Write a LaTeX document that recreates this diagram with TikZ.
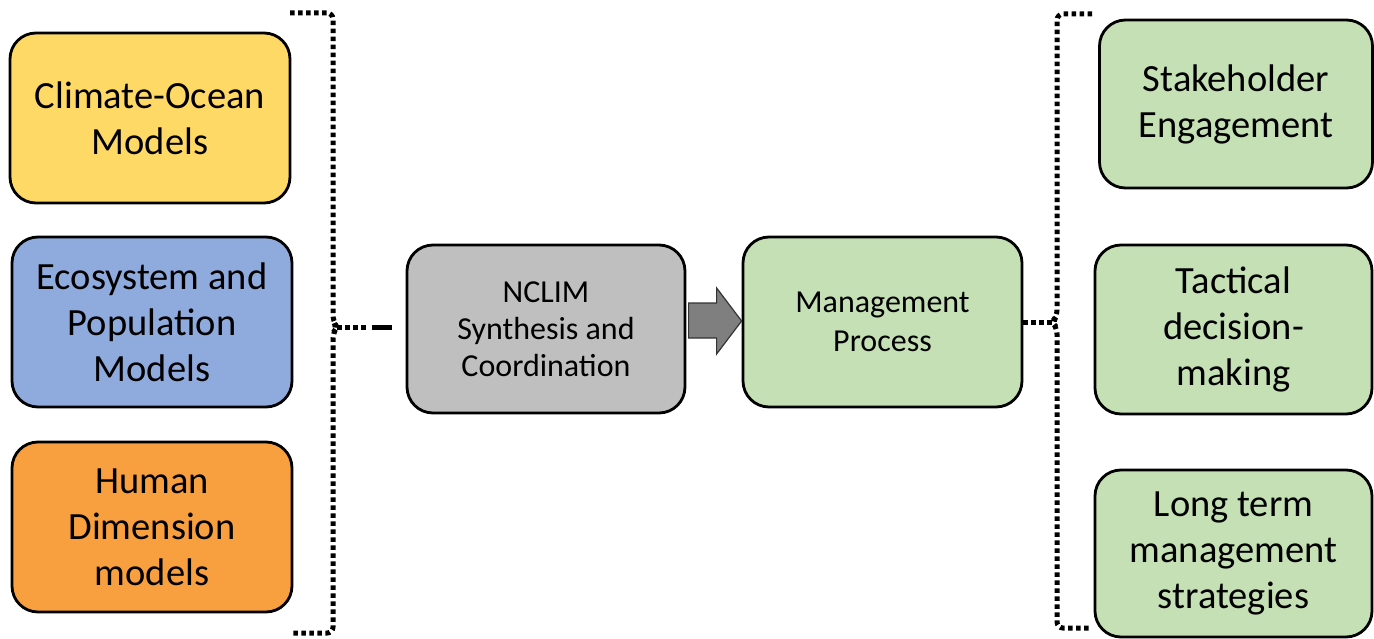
\documentclass[tikz,border=0pt]{standalone}
\usepackage{fontspec}
\setmainfont{Carlito}
\usetikzlibrary{calc}
\definecolor{cyellow}{HTML}{FFD966}
\definecolor{cblue}{HTML}{8FAADC}
\definecolor{corange}{HTML}{F8A03F}
\definecolor{cgray}{HTML}{BFBFBF}
\definecolor{cgreen}{HTML}{C5E0B4}
\definecolor{carrow}{HTML}{7F7F7F}
\tikzset{
  box/.style={draw=black, line width=2.8pt, rounded corners=26pt, inner sep=0pt,
    minimum width=280pt, minimum height=170pt, align=center},
  bigtext/.style={font=\fontsize{38.5}{46}\selectfont},
  midtext/.style={font=\fontsize{32}{37}\selectfont},
  bracket/.style={line width=5pt, dash pattern=on 4.5pt off 3.5pt, rounded corners=6pt},
  blockarrow/.style={draw=black!80, line width=1.2pt, fill=carrow, line join=miter},
}
\begin{document}
\begin{tikzpicture}[x=1pt,y=-1pt]
\useasboundingbox (0,0) rectangle (1374,639);
% left column
\node[box, bigtext, fill=cyellow] (clim) at (150,118) {Climate-Ocean\\Models};
\node[box, bigtext, fill=cblue] (eco) at (152,322) {Ecosystem and\\Population\\Models};
\node[box, bigtext, fill=corange] (hum) at (152,527) {Human\\Dimension\\models};
% middle
\node[box, midtext, fill=cgray, minimum width=278pt, minimum height=168pt] (nclim) at (546,329) {NCLIM\\Synthesis and\\Coordination};
\node[box, midtext, fill=cgreen, minimum width=279pt, font=\fontsize{32}{39}\selectfont] (mgmt) at (882.5,322) {Management\\Process};
% right column
\node[box, bigtext, fill=cgreen, minimum width=273pt, minimum height=168pt] (stake) at (1236,104) {Stakeholder\\Engagement};
\node[box, bigtext, fill=cgreen, minimum width=277pt, minimum height=169pt] (tact) at (1233.5,329.5) {Tactical\\decision-\\making};
\node[box, bigtext, fill=cgreen, minimum width=277pt, minimum height=167pt] (long) at (1233.5,553.5) {Long term\\management\\strategies};
% left bracket
\coordinate (lb) at (337,327);
\draw[bracket] (290,13) -- (333,13) -- (333,321) -- (lb) -- (333,333) -- (333,633) -- (290,633);
\draw[line width=5pt, dash pattern=on 4.5pt off 3.5pt on 4.5pt off 3.5pt on 4.5pt off 3.5pt on 4.5pt off 6pt on 20pt off 60pt]
  (lb) -- ($(nclim.west |- lb)+(-12,0)$);
% arrow
\coordinate (tip) at (mgmt.west |- 0,321);
\draw[blockarrow] (tip) -- ++(-25,-33) -- ++(0,15) -- ++(-28,0) -- ++(0,35) -- ++(28,0) -- ++(0,16) -- cycle;
% right bracket
\coordinate (rb) at (1052,322);
\draw[bracket] (1092,14) -- (1057,14) -- (1057,316) -- (rb) -- (1057,328) -- (1057,628) -- (1092,628);
\draw[line width=5pt, dash pattern=on 4.5pt off 3.5pt] (mgmt.east) -- (rb);
\end{tikzpicture}
\end{document}
